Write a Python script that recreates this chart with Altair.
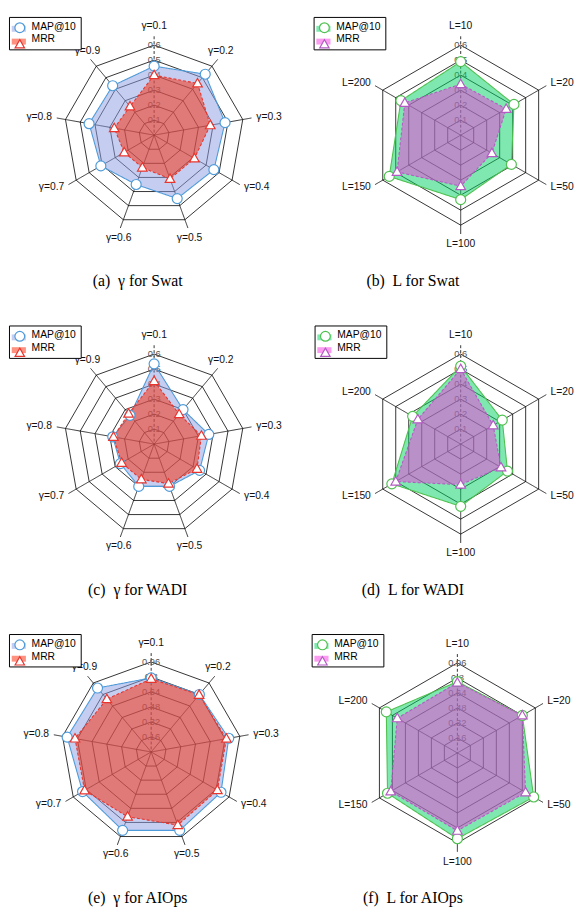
import altair as alt
import pandas as pd

# ---------------- data ----------------
series_names = ["MAP@10", "MRR"]
marker_keys = ["MAP@10 marker", "MRR marker"]
gamma_labels = ["γ=0.1", "γ=0.2", "γ=0.3", "γ=0.4", "γ=0.5", "γ=0.6", "γ=0.7", "γ=0.8", "γ=0.9"]
L_labels = ["L=10", "L=20", "L=50", "L=100", "L=150", "L=200"]

ticks_std = [0.1, 0.2, 0.3, 0.4, 0.5, 0.6]
tick_text_std = ["0.1", "0.2", "0.3", "0.4", "0.5", "0.6"]
ticks_aiops = [0.16, 0.32, 0.48, 0.64, 0.8, 0.96]
tick_text_aiops = ["0.16", "0.32", "0.48", "0.64", "0.8", "0.96"]

swat_gamma_map = [0.46, 0.53, 0.48, 0.46, 0.45, 0.35, 0.41, 0.44, 0.43]
swat_gamma_mrr = [0.40, 0.45, 0.38, 0.31, 0.31, 0.23, 0.23, 0.27, 0.25]
swat_L_map = [0.49, 0.41, 0.39, 0.43, 0.55, 0.46]
swat_L_mrr = [0.34, 0.35, 0.24, 0.34, 0.49, 0.43]

wadi_gamma_map = [0.535, 0.30, 0.37, 0.35, 0.30, 0.30, 0.26, 0.28, 0.25]
wadi_gamma_mrr = [0.42, 0.26, 0.32, 0.33, 0.28, 0.25, 0.25, 0.275, 0.265]
wadi_L_map = [0.52, 0.32, 0.36, 0.415, 0.53, 0.37]
wadi_L_mrr = [0.50, 0.25, 0.31, 0.27, 0.50, 0.33]

aiops_gamma_map = [0.79, 0.80, 0.84, 0.86, 0.89, 0.89, 0.845, 0.91, 0.89]
aiops_gamma_mrr = [0.78, 0.795, 0.815, 0.815, 0.83, 0.735, 0.82, 0.825, 0.735]
aiops_L_map = [0.76, 0.80, 0.94, 0.915, 0.86, 0.875]
aiops_L_mrr = [0.75, 0.80, 0.84, 0.83, 0.82, 0.74]

captions = ["(a)\u00a0 γ for Swat", "(b)\u00a0 L for Swat",
            "(c)\u00a0 γ for WADI", "(d)\u00a0 L for WADI",
            "(e)\u00a0 γ for AIOps", "(f)\u00a0 L for AIOps"]

# ---------------- style ----------------
R = 91.6          # px radius of outermost ring
SPOKE = 9
LABEL_GAP = 14
SANS = "Liberation Sans"
SERIF = "Liberation Serif"

fills_gamma = ["#8b9de1", "#fa2600"]
edges_gamma = ["#4f9bd9", "#e8352e"]
fills_L = ["#00d161", "#f638e0"]
edges_L = ["#50c050", "#b45cc4"]

circle_path = "M0.83,0A0.83,0.83,0,1,1,-0.83,0A0.83,0.83,0,1,1,0.83,0Z"
triangle_path = "M0,-0.82L0.8,0.58L-0.8,0.58Z"
patch_path = "M-1.2,-0.15H1.2V0.85H-1.2Z"


def radar(cats, ticks, tick_text, v_map, v_mrr, fills, edges, cx, cy, W, H,
          caption, cap_dx, lx, ly):
    n = len(cats)
    rmax = ticks[-1]
    idx = list(range(n))
    xs = alt.Scale(domain=[-cx, W - cx], nice=False, zero=False)
    ys = alt.Scale(domain=[-(H - cy), cy], nice=False, zero=False)
    X = alt.X("px:Q", scale=xs, axis=None)
    Y = alt.Y("py:Q", scale=ys, axis=None)

    def polar(ch):
        return ch.transform_calculate(
            th=f"PI / 2 - datum.k * 2 * PI / {n}"
        ).transform_calculate(
            px=f"datum.r / {rmax} * {R} * cos(datum.th)"
        ).transform_calculate(
            py=f"datum.r / {rmax} * {R} * sin(datum.th)"
        )

    common = dict(orient="none", legendX=lx, legendY=ly, title=None,
                  symbolSize=144, labelFont=SANS, labelFontSize=10.5,
                  padding=4, rowPadding=1, labelOffset=7, direction="vertical")
    leg_patch = alt.Legend(symbolType=patch_path, symbolStrokeWidth=0,
                           symbolOpacity=0.5, labelColor="black",
                           labelExpr="datum.label + '\u00a0\u00a0\u00a0'",
                           strokeColor="black", fillColor="white", **common)
    leg_mark = alt.Legend(labelColor="transparent", labelExpr="''",
                          symbolFillColor="white",
                          symbolStrokeWidth=1.2, symbolOpacity=1,
                          strokeColor="transparent", **common)

    ring_df = pd.DataFrame([{"ring": i, "k": k, "r": t}
                            for i, t in enumerate(ticks) for k in idx])
    rings = polar(alt.Chart(ring_df)).mark_line(
        interpolate="linear-closed", color="black", strokeWidth=0.8
    ).encode(X, Y, detail="ring:N", order="k:Q")

    spoke_df = pd.DataFrame({"k": idx, "r": [rmax * (R + SPOKE) / R] * n})
    spokes = polar(alt.Chart(spoke_df)).transform_calculate(o="0").mark_rule(
        color="black", strokeWidth=0.8
    ).encode(
        x=X, y=Y, x2="o:Q", y2="o:Q",
        strokeDash=alt.condition("datum.k == 0", alt.value([3, 2]), alt.value([1, 0])),
    )

    tick_df = pd.DataFrame({"k": [0] * len(ticks), "r": ticks, "lab": tick_text})
    tick_marks = polar(alt.Chart(tick_df)).mark_text(
        font=SANS, fontSize=9.5, color="#555555"
    ).encode(X, Y, text="lab:N")

    def poly(vals, j, dash):
        df = pd.DataFrame({"k": idx, "r": vals, "sA": series_names[j]})
        return polar(alt.Chart(df)).mark_line(
            interpolate="linear-closed", fillOpacity=0.5, stroke=edges[j],
            strokeWidth=1.1, strokeDash=dash
        ).encode(
            X, Y, order="k:Q",
            fill=alt.Fill("sA:N", scale=alt.Scale(domain=series_names, range=fills),
                          legend=leg_patch),
        )

    pt_df = pd.DataFrame({
        "k": idx + idx,
        "r": list(v_map) + list(v_mrr),
        "sB": [marker_keys[0]] * n + [marker_keys[1]] * n,
    })
    pts = polar(alt.Chart(pt_df)).mark_point(
        filled=False, fill="white", fillOpacity=1, opacity=1, size=150, strokeWidth=1.2
    ).encode(
        X, Y,
        color=alt.Color("sB:N", scale=alt.Scale(domain=marker_keys, range=edges),
                        legend=leg_mark),
        shape=alt.Shape("sB:N", scale=alt.Scale(domain=marker_keys,
                                                range=[circle_path, triangle_path]),
                        legend=leg_mark),
    )

    lab_df = pd.DataFrame({"k": idx, "r": [rmax * (R + LABEL_GAP) / R] * n, "lab": cats})
    base = polar(alt.Chart(lab_df)).transform_calculate(
        grp="abs(cos(datum.th)) > 0.8 ? (cos(datum.th) > 0 ? 'L' : 'R') : (sin(datum.th) > 0 ? 'T' : 'B')"
    )
    lab_layers = []
    for g, al, bl in [("L", "left", "middle"), ("R", "right", "middle"),
                      ("T", "center", "bottom"), ("B", "center", "top")]:
        lab_layers.append(
            base.transform_filter(f"datum.grp == '{g}'").mark_text(
                font=SANS, fontSize=10.5, color="#111111", align=al, baseline=bl
            ).encode(X, Y, text="lab:N")
        )

    return alt.layer(
        rings, spokes, tick_marks, poly(v_map, 0, [1, 0]), poly(v_mrr, 1, [3, 2]),
        pts, *lab_layers
    ).properties(
        width=W, height=H,
        title=alt.TitleParams(caption, orient="bottom", frame="group", anchor="middle",
                              offset=261 - H, dx=cap_dx, font=SERIF, fontSize=16,
                              fontWeight="normal", color="black"),
    )


W = 287
pa = radar(gamma_labels, ticks_std, tick_text_std, swat_gamma_map, swat_gamma_mrr,
           fills_gamma, edges_gamma, 147.7, 120.3, W, 313, captions[0], -12.5, 0, 0)
pb = radar(L_labels, ticks_std, tick_text_std, swat_L_map, swat_L_mrr,
           fills_L, edges_L, 172.7, 120.3, W, 313, captions[1], -19.5, 23, 0)
pc = radar(gamma_labels, ticks_std, tick_text_std, wadi_gamma_map, wadi_gamma_mrr,
           fills_gamma, edges_gamma, 147.7, 120.7, W, 313, captions[2], -12.5, 0, 0)
pd_ = radar(L_labels, ticks_std, tick_text_std, wadi_L_map, wadi_L_mrr,
            fills_L, edges_L, 172.7, 120.7, W, 313, captions[3], -19.5, 24, 0)
pe = radar(gamma_labels, ticks_aiops, tick_text_aiops, aiops_gamma_map, aiops_gamma_mrr,
           fills_gamma, edges_gamma, 144.7, 120.0, W, 287, captions[4], -12.5, 0, 0)
pf = radar(L_labels, ticks_aiops, tick_text_aiops, aiops_L_map, aiops_L_mrr,
           fills_L, edges_L, 169.3, 121.0, W, 287, captions[5], -19.5, 21, 0)

indep = dict(x="independent", y="independent", fill="independent",
             color="independent", shape="independent")
indep_leg = dict(fill="independent", color="independent", shape="independent")


def row(a, b):
    return alt.hconcat(a, b, spacing=0, bounds="flush").resolve_scale(**indep).resolve_legend(**indep_leg)


chart = alt.vconcat(
    row(pa, pb), row(pc, pd_), row(pe, pf), spacing=0
).resolve_scale(**indep).resolve_legend(**indep_leg).properties(
    padding=0, background="white"
).configure_view(strokeWidth=0)

chart.save("out.html", embed_options={"renderer": "svg", "actions": False})
